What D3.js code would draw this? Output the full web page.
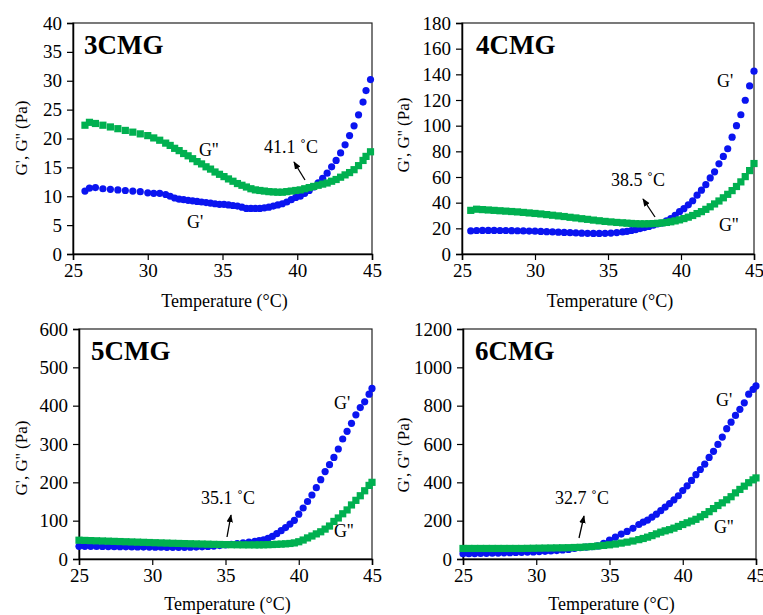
<!DOCTYPE html>
<html>
<head>
<meta charset="utf-8">
<script src="https://cdn.jsdelivr.net/npm/d3@7"></script>
<style>
  body { margin: 0; background: #fff; }
  svg text { font-family: "Liberation Serif", "Times New Roman", serif; fill: #000; }
</style>
</head>
<body>
<svg id="chart" width="763" height="615"></svg>
<script>
// temperatures (°C) and moduli (Pa)
var temps3 = [25.8, 26.1, 26.5, 27.0, 27.5, 28.0, 28.5, 29.0, 29.5, 30.0, 30.4, 30.8, 31.2, 31.5, 31.8, 32.1, 32.4, 32.7, 33.0, 33.3,
  33.6, 33.9, 34.2, 34.5, 34.8, 35.1, 35.4, 35.7, 36.0, 36.3, 36.6, 36.9, 37.2, 37.5, 37.8, 38.1, 38.4, 38.7, 39.0, 39.3,
  39.6, 39.9, 40.2, 40.5, 40.8, 41.1, 41.4, 41.7, 42.0, 42.3, 42.6, 42.9, 43.2, 43.5, 43.8, 44.1, 44.4, 44.6, 44.9];
var gp3 = [10.9, 11.4, 11.5, 11.3, 11.2, 11.1, 11.0, 10.9, 10.8, 10.6, 10.5, 10.5, 10.3, 10.0, 9.7, 9.5, 9.4, 9.3, 9.2, 9.1,
  9.0, 8.9, 8.8, 8.7, 8.6, 8.6, 8.5, 8.4, 8.3, 8.1, 7.9, 7.9, 7.9, 7.9, 8.0, 8.1, 8.3, 8.5, 8.7, 9.0,
  9.4, 9.8, 10.0, 10.5, 11.0, 11.6, 12.3, 13.1, 14.0, 15.1, 16.2, 17.5, 18.9, 20.5, 22.2, 24.1, 26.3, 28.3, 30.2];
var gpp3 = [22.3, 22.8, 22.6, 22.3, 22.0, 21.7, 21.4, 21.1, 20.8, 20.5, 20.1, 19.7, 19.2, 18.8, 18.3, 17.9, 17.4, 17.0, 16.5, 16.0,
  15.6, 15.1, 14.7, 14.2, 13.8, 13.4, 13.0, 12.6, 12.2, 11.9, 11.6, 11.3, 11.1, 11.0, 10.9, 10.8, 10.75, 10.7, 10.7, 10.8,
  10.9, 11.0, 11.1, 11.3, 11.5, 11.7, 11.9, 12.1, 12.3, 12.6, 12.9, 13.3, 13.7, 14.1, 14.6, 15.3, 16.2, 16.9, 17.7];

var temps4 = [25.6, 26.0, 26.4, 26.8, 27.2, 27.6, 28.0, 28.4, 28.8, 29.2, 29.6, 30.0, 30.4, 30.8, 31.2, 31.6, 32.0, 32.4, 32.8, 33.2,
  33.6, 34.0, 34.4, 34.8, 35.2, 35.6, 36.0, 36.3, 36.6, 36.9, 37.2, 37.5, 37.8, 38.1, 38.4, 38.7, 39.0, 39.3, 39.6, 39.9,
  40.2, 40.5, 40.8, 41.1, 41.4, 41.7, 42.0, 42.3, 42.6, 42.9, 43.2, 43.5, 43.8, 44.1, 44.4, 44.7, 45.0];
var gp4 = [18.0, 18.3, 18.4, 18.4, 18.4, 18.3, 18.3, 18.2, 18.1, 18.0, 17.9, 17.8, 17.6, 17.4, 17.2, 17.0, 16.8, 16.6, 16.4, 16.2,
  16.1, 16.0, 16.0, 16.1, 16.3, 16.7, 17.2, 17.7, 18.3, 19.0, 19.8, 20.6, 21.5, 22.5, 23.5, 24.1, 25.8, 27.5, 30.2, 33.0,
  35.3, 38.3, 41.5, 45.8, 49.7, 54.0, 59.3, 64.0, 70.3, 76.0, 82.0, 91.0, 100.0, 108.5, 119.8, 131.0, 142.5];
var gpp4 = [34.0, 34.9, 34.6, 34.3, 34.0, 33.7, 33.4, 33.1, 32.8, 32.4, 32.0, 31.6, 31.2, 30.7, 30.2, 29.7, 29.2, 28.6, 28.1, 27.5,
  27.0, 26.4, 25.9, 25.4, 25.0, 24.6, 24.3, 24.0, 23.8, 23.6, 23.5, 23.5, 23.6, 23.7, 23.9, 24.2, 24.6, 25.1, 25.8, 26.6,
  27.6, 28.7, 30.0, 31.5, 33.0, 34.8, 36.8, 39.0, 41.3, 43.8, 46.5, 49.4, 52.6, 56.2, 60.3, 65.0, 70.5];

var temps5 = [25.0, 25.4, 25.8, 26.2, 26.6, 27.0, 27.4, 27.8, 28.2, 28.6, 29.0, 29.4, 29.8, 30.2, 30.6, 31.0, 31.4, 31.8, 32.2, 32.6,
  33.0, 33.4, 33.8, 34.2, 34.6, 35.0, 35.4, 35.8, 36.2, 36.6, 37.0, 37.3, 37.6, 37.9, 38.2, 38.5, 38.8, 39.1, 39.4, 39.7,
  40.0, 40.3, 40.6, 40.9, 41.2, 41.5, 41.8, 42.1, 42.4, 42.7, 43.0, 43.3, 43.6, 43.9, 44.2, 44.5, 44.8, 45.0];
var gp5 = [33, 33, 33, 32.8, 32.6, 32.4, 32.2, 32, 31.8, 31.6, 31.4, 31.2, 31.0, 30.8, 30.6, 30.5, 30.4, 30.4, 30.5, 30.8,
  31.2, 31.8, 32.6, 33.6, 35, 36.5, 38.2, 40, 42, 44, 46, 48, 50, 54, 59, 66, 74, 82, 91, 101,
  117, 133, 150, 167, 186, 207, 228, 246, 265, 287, 313, 333, 354, 376, 395, 410, 430, 445];
var gpp5 = [49, 48.5, 48, 47.5, 47, 46.5, 46, 45.5, 45, 44.5, 44, 43.5, 43, 42.5, 42, 41.5, 41, 40.6, 40.2, 39.8,
  39.4, 39, 38.6, 38.2, 37.9, 37.6, 37.3, 37.1, 36.9, 36.8, 36.8, 36.9, 37.1, 37.4, 37.8, 38.3, 38.9, 39.6, 40.5, 42,
  45, 49.5, 55, 60, 65.5, 71, 78, 86, 98, 107, 118, 128, 141, 153, 165, 178, 192, 200];

var temps6 = [25.0, 25.4, 25.8, 26.2, 26.6, 27.0, 27.4, 27.8, 28.2, 28.6, 29.0, 29.4, 29.8, 30.2, 30.6, 31.0, 31.4, 31.8, 32.2, 32.6,
  33.0, 33.4, 33.8, 34.2, 34.6, 35.0, 35.4, 35.8, 36.2, 36.6, 37.0, 37.3, 37.6, 37.9, 38.2, 38.5, 38.8, 39.1, 39.4, 39.7,
  40.0, 40.3, 40.6, 40.9, 41.2, 41.5, 41.8, 42.1, 42.4, 42.7, 43.0, 43.3, 43.6, 43.9, 44.2, 44.5, 44.8, 45.0];
var gp6 = [28, 28, 28.5, 29, 29.5, 30, 31, 32, 33, 34, 35, 36, 37, 38.5, 40, 42, 44, 47, 50, 55,
  59, 62, 65, 68, 82, 98, 114, 130, 144, 160, 180, 192, 203, 219, 234, 252, 271, 289, 309, 330,
  357, 382, 410, 440, 467, 495, 530, 562, 598, 636, 680, 714, 749, 781, 815, 860, 885, 903];
var gpp6 = [55, 55, 55, 55, 55, 55, 55, 55, 55, 55, 55, 55.5, 56, 56.5, 57, 57.5, 58, 58.5, 59, 60,
  61, 63, 65, 68, 71, 74, 78, 83, 88, 94, 101, 107, 114, 122, 131, 140, 147, 153, 161, 170,
  180, 189, 198, 207, 220, 232, 247, 263, 279, 293, 309, 325, 345, 363, 380, 398, 413, 423];

var xTicks = [25, 30, 35, 40, 45];
var yTicks3 = [0, 5, 10, 15, 20, 25, 30, 35, 40];
var yTicks4 = [0, 20, 40, 60, 80, 100, 120, 140, 160, 180];
var yTicks5 = [0, 100, 200, 300, 400, 500, 600];
var yTicks6 = [0, 200, 400, 600, 800, 1000, 1200];

var names = ["3CMG", "4CMG", "5CMG", "6CMG"];
var crossLabels = ["41.1 \u02daC", "38.5 \u02daC", "35.1 \u02daC", "32.7 \u02daC"];

var blue = "#0a14f0", green = "#00b050";
var serif = "'Liberation Serif', 'Times New Roman', serif";

// panel layout (pixel boxes + annotation spots)
var panels = [
  {name: names[0], T: temps3, gp: gp3, gpp: gpp3, ticks: yTicks3, box: [73, 372, 23, 254], ylab: [22, 138], xlabY: 307,
   title: [84, 54], gpLab: [187, 228], gppLab: [199, 156], cross: crossLabels[0], crossAt: [264, 153], arrow: [305, 180, 294, 162]},
  {name: names[1], T: temps4, gp: gp4, gpp: gpp4, ticks: yTicks4, box: [462, 754, 23, 254], ylab: [404, 135], xlabY: 307,
   title: [476, 54], gpLab: [717, 87], gppLab: [719, 231], cross: crossLabels[1], crossAt: [611, 186], arrow: [655, 217, 643, 199]},
  {name: names[2], T: temps5, gp: gp5, gpp: gpp5, ticks: yTicks5, box: [79, 372, 329, 559], ylab: [22, 458], xlabY: 610,
   title: [91, 360], gpLab: [334, 409], gppLab: [334, 537], cross: crossLabels[2], crossAt: [201, 504], arrow: [227, 537, 231, 515]},
  {name: names[3], T: temps6, gp: gp6, gpp: gpp6, ticks: yTicks6, box: [463, 756, 329, 559], ylab: [404, 455], xlabY: 610,
   title: [475, 360], gpLab: [716, 406], gppLab: [714, 533], cross: crossLabels[3], crossAt: [555, 504], arrow: [579, 538, 584, 516]}
];

var svg = d3.select("#chart");

svg.append("defs").append("marker")
  .attr("id", "arr")
  .attr("viewBox", "0 0 10 10")
  .attr("refX", 9).attr("refY", 5)
  .attr("markerWidth", 8).attr("markerHeight", 8)
  .attr("markerUnits", "userSpaceOnUse")
  .attr("orient", "auto")
  .append("path")
  .attr("d", "M0,1 L10,5 L0,9 Z")
  .attr("fill", "#000");

panels.forEach(function(p) {
  var b = p.box;
  var x = d3.scaleLinear().domain([25, 45]).range([b[0], b[1]]);
  var y = d3.scaleLinear().domain([p.ticks[0], p.ticks[p.ticks.length - 1]]).range([b[3], b[2]]);
  var g = svg.append("g");

  // plot frame
  g.append("rect")
    .attr("x", b[0]).attr("y", b[2])
    .attr("width", b[1] - b[0]).attr("height", b[3] - b[2])
    .attr("fill", "none").attr("stroke", "#222").attr("stroke-width", 1.2);

  var xAxis = g.append("g")
    .attr("transform", "translate(0," + b[3] + ")")
    .call(d3.axisBottom(x).tickValues(xTicks).tickFormat(d3.format("d")).tickSize(6).tickPadding(4));
  var yAxis = g.append("g")
    .attr("transform", "translate(" + b[0] + ",0)")
    .call(d3.axisLeft(y).tickValues(p.ticks).tickFormat(d3.format("d")).tickSize(6).tickPadding(5));
  [xAxis, yAxis].forEach(function(a) {
    a.attr("font-family", serif).attr("font-size", 19);
    a.select(".domain").attr("stroke", "#000").attr("stroke-width", 1.5);
    a.selectAll(".tick line").attr("stroke", "#000").attr("stroke-width", 1.2);
    a.selectAll(".tick text").attr("fill", "#000");
  });

  // axis titles
  g.append("text")
    .attr("x", (b[0] + b[1]) / 2 + 2).attr("y", p.xlabY)
    .attr("text-anchor", "middle")
    .attr("font-family", serif)
    .style("font-size", "18px")
    .text("Temperature (\u00b0C)");
  g.append("text")
    .attr("transform", "translate(" + (p.ylab[0] + 5) + "," + p.ylab[1] + ") rotate(-90)")
    .attr("text-anchor", "middle")
    .attr("font-family", serif)
    .style("font-size", "17px")
    .text("G', G'' (Pa)");

  var pts = p.T.map(function(t, i) { return {t: t, gp: p.gp[i], gpp: p.gpp[i]}; });

  // G' circles
  g.append("g").selectAll("circle")
    .data(pts).enter().append("circle")
    .attr("cx", function(d) { return x(d.t); })
    .attr("cy", function(d) { return y(d.gp); })
    .attr("r", 3.6)
    .attr("fill", blue);

  // G'' squares
  var s = 7.2;
  g.append("g").selectAll("rect")
    .data(pts).enter().append("rect")
    .attr("x", function(d) { return x(d.t) - s / 2; })
    .attr("y", function(d) { return y(d.gpp) - s / 2; })
    .attr("width", s).attr("height", s)
    .attr("fill", green);

  // labels
  g.append("text")
    .attr("x", p.title[0]).attr("y", p.title[1])
    .attr("font-family", serif)
    .style("font-size", "27px").style("font-weight", "bold")
    .text(p.name);
  g.append("text").attr("x", p.gpLab[0]).attr("y", p.gpLab[1])
    .attr("font-family", serif).style("font-size", "18px").text("G'");
  g.append("text").attr("x", p.gppLab[0]).attr("y", p.gppLab[1])
    .attr("font-family", serif).style("font-size", "18px").text("G''");
  g.append("text").attr("x", p.crossAt[0]).attr("y", p.crossAt[1])
    .attr("font-family", serif).style("font-size", "18px").text(p.cross);
  g.append("line")
    .attr("x1", p.arrow[0]).attr("y1", p.arrow[1])
    .attr("x2", p.arrow[2]).attr("y2", p.arrow[3])
    .attr("stroke", "#000").attr("stroke-width", 1.3)
    .attr("marker-end", "url(#arr)");
});
</script>
</body>
</html>
